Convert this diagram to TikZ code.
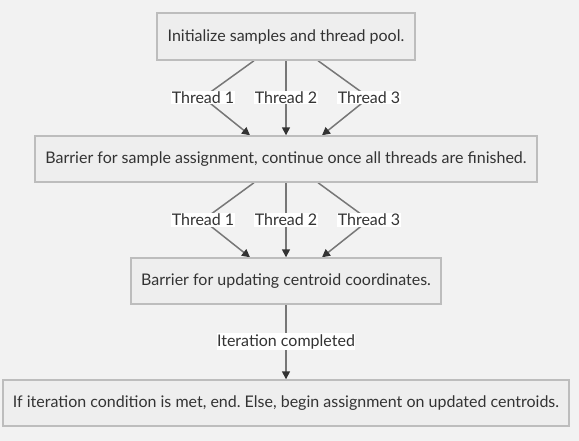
\documentclass[tikz,border=0pt]{standalone}
\usepackage{fontspec}
\setmainfont{Lato}
\frenchspacing
\usetikzlibrary{arrows.meta,backgrounds}
\definecolor{bgc}{HTML}{F2F2F2}
\definecolor{boxfill}{HTML}{EEEEEE}
\definecolor{boxline}{HTML}{BDBDBD}
\definecolor{linec}{HTML}{777777}
\definecolor{tipc}{HTML}{333333}
\definecolor{txt}{HTML}{333333}
\tikzset{
  stepbox/.style={draw=boxline, line width=1.4pt, fill=boxfill, rectangle, inner sep=0pt, text=txt, font=\fontsize{16}{18}\selectfont},
  edgelabel/.style={fill=white, inner xsep=0.5pt, inner ysep=1pt, text=txt, font=\fontsize{16}{18}\selectfont},
  conn/.style={draw=linec, line width=1.5pt, -{Triangle[length=8pt,width=8pt,color=tipc,fill=tipc]}},
}
\begin{document}
\begin{tikzpicture}[x=1pt,y=-1pt]
\useasboundingbox (0,0) rectangle (579,441);
\begin{scope}[on background layer]
\fill[bgc] (0,0) rectangle (579,441);
\end{scope}
\node[stepbox, minimum width=258pt, minimum height=47pt] (b1) at (286,36.5) {Initialize samples and thread pool.};
\node[stepbox, minimum width=502pt, minimum height=46pt] (b2) at (286,159) {Barrier for sample assignment, continue once all threads are finished.};
\node[stepbox, minimum width=310pt, minimum height=46pt] (b3) at (286,281) {Barrier for updating centroid coordinates.};
\node[stepbox, minimum width=566pt, minimum height=46pt] (b4) at (286,403) {If iteration condition is met, end. Else, begin assignment on updated centroids.};
\node[edgelabel] (t11) at (203,97.5) {Thread 1};
\node[edgelabel] (t12) at (286,97.5) {Thread 2};
\node[edgelabel] (t13) at (369,97.5) {Thread 3};
\node[edgelabel] (t21) at (203,220) {Thread 1};
\node[edgelabel] (t22) at (286,220) {Thread 2};
\node[edgelabel] (t23) at (369,220) {Thread 3};
\node[edgelabel] (it) at (286,341.5) {Iteration completed};
\begin{scope}[on background layer]
\draw[conn] ([xshift=-32pt]b1.south) -- (t11.center) -- ([xshift=-36pt]b2.north);
\draw[conn] (b1.south) -- (b2.north);
\draw[conn] ([xshift=32pt]b1.south) -- (t13.center) -- ([xshift=36pt]b2.north);
\draw[conn] ([xshift=-32pt]b2.south) -- (t21.center) -- ([xshift=-36pt]b3.north);
\draw[conn] (b2.south) -- (b3.north);
\draw[conn] ([xshift=32pt]b2.south) -- (t23.center) -- ([xshift=36pt]b3.north);
\draw[conn] (b3.south) -- (b4.north);
\end{scope}
\end{tikzpicture}
\end{document}
